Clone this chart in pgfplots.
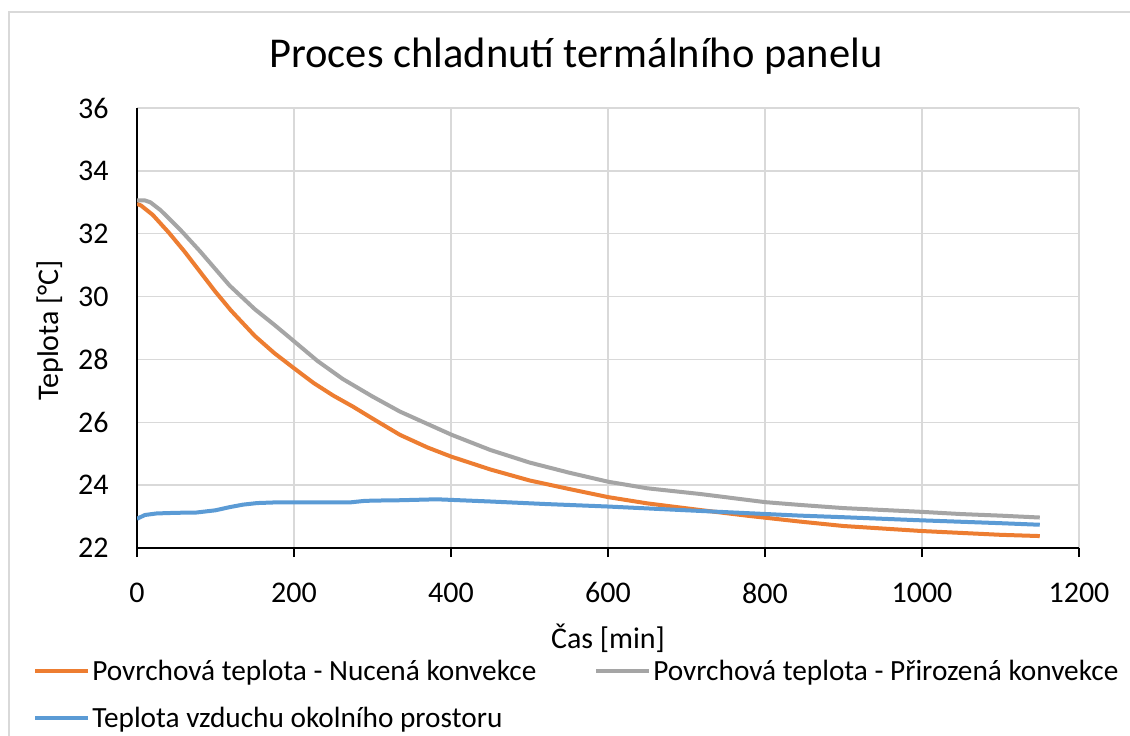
\documentclass[border=0pt]{standalone}
\usepackage{fontspec}
\setmainfont{Carlito}
\usepackage{pgfplots}
\pgfplotsset{compat=1.18}
\definecolor{cOrange}{HTML}{ED7D31}
\definecolor{cGray}{HTML}{A5A5A5}
\definecolor{cBlue}{HTML}{5B9BD5}
\definecolor{cGrid}{HTML}{D9D9D9}
\begin{document}
\begin{tikzpicture}[x=1bp,y=1bp]
\useasboundingbox (0,0) rectangle (1130,-736);
\fill[white] (0,0) rectangle (1130,-736);
\draw[cGrid, line width=1.5bp] (9,-736) -- (9,-12) -- (1130,-12);
\begin{axis}[
  at={(137bp,-548bp)}, anchor=south west,
  scale only axis, width=942bp, height=440bp,
  xmin=0, xmax=1200, ymin=22, ymax=36,
  xtick={0,200,...,1200}, ytick={22,24,...,36},
  axis x line*=bottom, axis y line*=left,
  axis line style={black, line width=1.8bp},
  grid=major, major grid style={cGrid, line width=1.5bp},
  ytick style={draw=none},
  xtick style={black, line width=1.5bp},
  tick align=outside, major tick length=9bp,
  /pgf/number format/assume math mode=true,
  /pgf/number format/1000 sep={},
  tick label style={font=\fontsize{30bp}{36bp}\selectfont},
  xticklabel style={yshift=-22bp},
  yticklabel style={xshift=-16bp},
  title={Proces chladnutí termálního panelu},
  title style={at={(0.466,1.0795)}, anchor=base, font=\fontsize{42.5bp}{48bp}\selectfont},
  xlabel={Čas [min]},
  xlabel style={at={(0.5,-0.2273)}, anchor=base, font=\fontsize{30bp}{36bp}\selectfont},
  ylabel={Teplota [°C]},
  ylabel style={at={(-0.0924,0.495)}, anchor=center, font=\fontsize{30bp}{36bp}\selectfont},
  legend columns=2,
  legend style={at={(-0.1134,-0.2455)}, anchor=north west, draw=none, fill=none,
    font=\fontsize{29.3bp}{35bp}\selectfont, row sep=21bp,
    /tikz/every even column/.append style={column sep=56bp},
    nodes={inner sep=2bp}},
  legend image code/.code={\draw[#1] (0bp,0bp) -- (53bp,0bp);},
  legend cell align=left,
  every axis plot/.append style={line width=4bp, line join=round},
]
\addplot[cOrange] coordinates {
(0,32.95) (5,32.9) (10,32.8) (20,32.6) (40,32.05) (60,31.45) (80,30.8) (100,30.15)
(120,29.55) (150,28.75) (175,28.2) (200,27.72) (225,27.25) (250,26.85) (275,26.5)
(300,26.12) (335,25.6) (370,25.2) (400,24.91) (450,24.5) (500,24.15) (550,23.88)
(600,23.62) (650,23.42) (717,23.21) (780,23.02) (845,22.84) (900,22.7) (950,22.62)
(1000,22.54) (1050,22.48) (1100,22.42) (1150,22.38)};
\addlegendentry{Povrchová teplota - Nucená konvekce}
\addplot[cGray] coordinates {
(0,33.06) (10,33.06) (17,33.0) (30,32.75) (55,32.13) (80,31.45) (118,30.35) (150,29.6)
(175,29.1) (199,28.6) (230,27.95) (262,27.38) (300,26.82) (335,26.34) (401,25.6) (450,25.12)
(500,24.72) (550,24.4) (600,24.11) (650,23.9) (717,23.72) (800,23.46) (845,23.37)
(900,23.27) (1000,23.15) (1050,23.08) (1100,23.03) (1150,22.97)};
\addlegendentry{Povrchová teplota - Přirozená konvekce}
\addplot[cBlue] coordinates {
(0,22.93) (10,23.05) (25,23.1) (50,23.12) (76,23.13) (100,23.2) (118,23.3) (135,23.38)
(153,23.43) (175,23.45) (199,23.45) (271,23.45) (290,23.5) (306,23.51) (335,23.52)
(382,23.55) (450,23.48) (520,23.4) (600,23.32) (700,23.2) (845,23.03) (900,22.98)
(1000,22.88) (1100,22.79) (1150,22.74)};
\addlegendentry{Teplota vzduchu okolního prostoru}
\end{axis}
\end{tikzpicture}
\end{document}
